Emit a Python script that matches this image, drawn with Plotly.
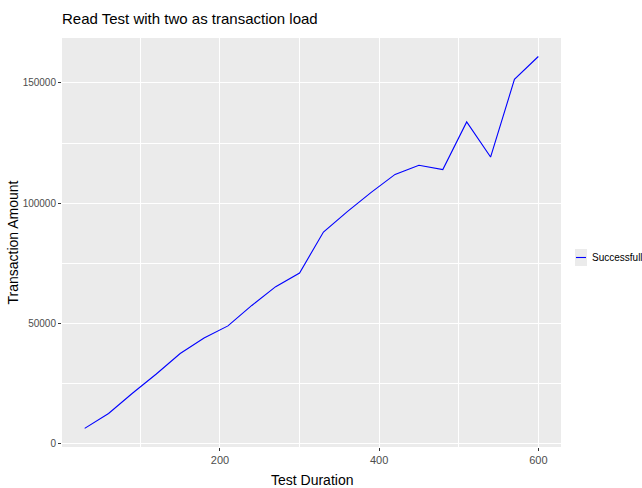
import plotly.graph_objects as go

duration = [30, 60, 90, 120, 150, 180, 210, 240, 270, 300,
            330, 360, 390, 420, 450, 480, 510, 540, 570, 600]
successfull = [6400, 12600, 21000, 29000, 37500, 44000, 49000, 57500, 65300, 71000,
               88000, 96500, 104500, 112000, 115800, 114000, 133800, 119200, 151500, 161000]
series_name = "Successfull"
x_ticks = [200, 400, 600]
y_ticks = [0, 50000, 100000, 150000]

font = "Liberation Sans, Arial, sans-serif"

# plot panel in page pixels
W, H = 642, 488
L, R, T, B = 62, 81, 38, 41
pw, ph = W - L - R, H - T - B


def px_x(p):
    return (p - L) / pw


def px_y(p):
    return (H - B - p) / ph


fig = go.Figure()
fig.add_trace(go.Scatter(
    x=duration, y=successfull, mode="lines", name=series_name,
    line=dict(color="#0000FF", width=1.1), showlegend=False,
))

# ggplot-style legend key (grey square with a short line) and label
fig.add_shape(type="rect", xref="paper", yref="paper",
              x0=px_x(575), x1=px_x(587), y0=px_y(266), y1=px_y(249),
              fillcolor="#EBEBEB", line=dict(width=0), layer="above")
fig.add_shape(type="line", xref="paper", yref="paper",
              x0=px_x(576), x1=px_x(586), y0=px_y(257.5), y1=px_y(257.5),
              line=dict(color="#0000FF", width=1.1), layer="above")
fig.add_annotation(text=series_name, xref="paper", yref="paper",
                   x=px_x(590), y=px_y(257.5), xanchor="left", yanchor="middle",
                   showarrow=False, font=dict(family=font, size=10, color="black"))

# axis titles
fig.add_annotation(text="Test Duration", xref="paper", yref="paper",
                   x=0.5, y=px_y(480), xanchor="center", yanchor="middle",
                   showarrow=False, font=dict(family=font, size=14, color="black"))
fig.add_annotation(text="Transaction Amount", xref="paper", yref="paper",
                   x=px_x(12), y=0.5, xanchor="center", yanchor="middle", textangle=-90,
                   showarrow=False, font=dict(family=font, size=14, color="black"))

fig.update_layout(
    width=W, height=H,
    margin=dict(l=L, r=R, t=T, b=B, autoexpand=False),
    paper_bgcolor="white",
    plot_bgcolor="#EBEBEB",
    title=dict(text="Read Test with two as transaction load",
               x=0, xref="paper", xanchor="left",
               y=1 - 13/488, yref="container", yanchor="top",
               font=dict(family=font, size=15, color="black")),
    showlegend=False,
    xaxis=dict(
        range=[1.5, 628.5], tickvals=x_ticks, ticktext=[str(v) for v in x_ticks],
        showgrid=True, gridcolor="white", gridwidth=1.2, zeroline=False, automargin=False,
        minor=dict(tickvals=[100, 300, 500], showgrid=True, gridcolor="white", gridwidth=0.6, ticks=""),
        ticks="outside", ticklen=3, tickcolor="#333333", tickwidth=1,
        tickfont=dict(family=font, size=11, color="#4D4D4D"),
        showline=False,
    ),
    yaxis=dict(
        range=[-1355, 168700], tickvals=y_ticks, ticktext=[str(v) for v in y_ticks],
        showgrid=True, gridcolor="white", gridwidth=1.2, zeroline=False, automargin=False,
        minor=dict(tickvals=[25000, 75000, 125000], showgrid=True, gridcolor="white", gridwidth=0.6, ticks=""),
        ticks="outside", ticklen=3, tickcolor="#333333", tickwidth=1,
        tickfont=dict(family=font, size=10, color="#4D4D4D"),
        showline=False,
    ),
)

fig.write_html("out.html", config={"displayModeBar": False},
               post_script="document.body.style.margin='0px';")
